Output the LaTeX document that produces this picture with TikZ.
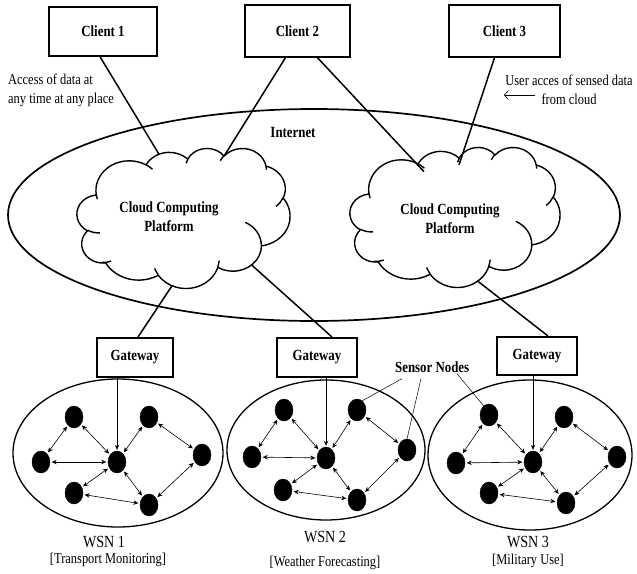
\documentclass[tikz,border=0pt]{standalone}
\usepackage{fontspec}
\setmainfont[FakeStretch=0.83]{Liberation Serif}
\usetikzlibrary{shapes.geometric,arrows.meta}

% Cloud outline with its inner curls, drawn in a 432 x 432 box (y downwards)
\newcommand\drawofficecloud{%
  \draw[cloudline] (39.00,143.70)
    arc[start angle=172.25, end angle=300.36, x radius=67.53, y radius=91.90]
    arc[start angle=-152.04, end angle=-45.41, x radius=53.33, y radius=72.67]
    arc[start angle=-153.49, end angle=-37.33, x radius=43.65, y radius=59.45]
    arc[start angle=-139.71, end angle=-10.21, x radius=48.57, y radius=65.95]
    arc[start angle=-74.77, end angle=23.21, x radius=53.33, y radius=72.73]
    arc[start angle=-37.52, end angle=81.86, x radius=67.75, y radius=92.20]
    arc[start angle=0.46, end angle=121.98, x radius=57.85, y radius=78.67]
    arc[start angle=16.84, end angle=146.22, x radius=67.52, y radius=92.15]
    arc[start angle=58.98, end angle=150.17, x radius=77.20, y radius=105.43]
    arc[start angle=83.31, end angle=223.11, x radius=43.60, y radius=59.18]
    arc[start angle=120.35, end angle=264.11, x radius=43.45, y radius=59.45]
    -- cycle;
  \draw[cloudline] (46.93,261.77) arc[start angle=85.55, end angle=120.35, x radius=43.45, y radius=59.45];
  \draw[cloudline] (69.28,348.99) arc[start angle=68.24, end angle=94.24, x radius=43.60, y radius=59.18];
  \draw[cloudline] (164.78,390.90) arc[start angle=146.22, end angle=159.58, x radius=67.52, y radius=92.15];
  \draw[cloudline] (288.27,347.51) arc[start angle=4.74, end angle=16.84, x radius=67.52, y radius=92.15];
  \draw[cloudline] (341.29,229.54) arc[start angle=-64.03, end angle=0.46, x radius=57.85, y radius=78.67];
  \draw[cloudline] (417.98,153.54) arc[start angle=23.21, end angle=49.65, x radius=53.33, y radius=72.73];
  \draw[cloudline] (383.24,54.26) arc[start angle=-10.21, end angle=0.82, x radius=48.57, y radius=65.95];
  \draw[cloudline] (290.78,39.52) arc[start angle=-156.29, end angle=-139.71, x radius=48.57, y radius=65.95];
  \draw[cloudline] (221.41,47.20) arc[start angle=-167.73, end angle=-153.49, x radius=43.65, y radius=59.45];
  \draw[cloudline] (140.00,51.92) arc[start angle=-59.64, end angle=-45.73, x radius=67.53, y radius=91.90];
  \draw[cloudline] (41.27,157.89) arc[start angle=163.20, end angle=172.25, x radius=67.53, y radius=91.90];
}

\begin{document}
\begin{tikzpicture}[x=1pt,y=-1pt,
  lbl/.style={font=\fontsize{15.5}{19}\selectfont\bfseries, inner sep=0pt},
  note/.style={font=\fontsize{15}{19}\selectfont, inner sep=0pt},
  wsnname/.style={font=\fontsize{17}{19}\selectfont, inner sep=0pt},
  client/.style={draw, line width=1.4pt, font=\fontsize{15.5}{19}\selectfont\bfseries},
  gatebox/.style={draw, line width=2pt, minimum width=78, minimum height=39, font=\fontsize{15.5}{19}\selectfont\bfseries},
  cloudline/.style={line width=1.4pt, line join=round},
  wire/.style={line width=1.5pt},
  sensor/.style={ellipse, fill=black, draw=black, minimum width=18, minimum height=22, inner sep=0pt},
  link/.style={line width=0.6pt, {Stealth[length=5pt,width=4.5pt]}-{Stealth[length=5pt,width=4.5pt]}, shorten <=1.5pt, shorten >=1.5pt},
  feed/.style={line width=0.7pt, -{Stealth[length=5pt,width=4.5pt]}, shorten >=1pt},
  pointer/.style={line width=0.5pt},
  field/.style={ellipse, draw, line width=1.3pt}
]
\useasboundingbox (0,0) rectangle (637,573);

% clients
\node[client, minimum width=108, minimum height=49] (c1) at (103,31.5) {Client 1};
\node[client, minimum width=105, minimum height=52] (c2) at (297.5,31) {Client 2};
\node[client, minimum width=111, minimum height=52] (c3) at (504.5,31) {Client 3};

% annotations
\node[note, anchor=west, align=left] (acc) at (8,90.5) {Access of data at\\any time at any place};
\node[note, align=center] (usr) at (569,89.5) {User acces of sensed data\\from cloud};
\coordinate (ua1) at (535,95);
\coordinate (ua2) at (504,95);
\draw[line width=0.6pt, -{Straight Barb[length=4pt,width=9pt]}] (ua1) -- (ua2);

% internet
\node[ellipse, draw, line width=1.7pt, minimum width=612, minimum height=212] (inet) at (314,215) {};
\node[lbl] (inetl) at (293,132) {Internet};

% cloud platforms
\begin{scope}[shift={(77,148)}, xscale=0.49306, yscale=0.32407]
  \drawofficecloud
  \coordinate (k1a) at (166.3,19.2);
  \coordinate (k1b) at (298.4,24.8);
  \coordinate (k1c) at (192.7,425.1);
  \coordinate (k1d) at (354.9,362.0);
\end{scope}
\begin{scope}[shift={(350,147)}, xscale=0.48611, yscale=0.32407]
  \drawofficecloud
  \coordinate (k2a) at (152.2,76.1);
  \coordinate (k2b) at (224.2,55.5);
  \coordinate (k2c) at (262.0,413.0);
\end{scope}
\node[lbl, align=center] (cl1) at (169,217) {Cloud Computing\\Platform};
\node[lbl, align=center] (cl2) at (450,219) {Cloud Computing\\Platform};

% client links
\draw[wire] ([xshift=-3]c1.south) -- (k1a);
\draw[wire] ([xshift=-12]c2.south) -- (k1b);
\draw[wire] ([xshift=20]c2.south) -- (k2a);
\draw[wire] ([xshift=-10]c3.south) -- (k2b);

% gateways
\node[gatebox, minimum width=76] (gw1) at (135,357.5) {Gateway};
\node[gatebox, minimum width=80] (gw2) at (317,357.5) {Gateway};
\node[gatebox, minimum width=80, minimum height=38] (gw3) at (537,356) {Gateway};

\draw[wire] (k1c) -- ([xshift=3]gw1.north);
\draw[wire] (k1d) -- ([xshift=15]gw2.north);
\draw[wire] (k2c) -- ([xshift=11]gw3.north);

% sensor fields
\node[field, minimum width=210, minimum height=148] (f1) at (118,453) {};
\node[field, minimum width=198, minimum height=140] (f2) at (326,450) {};
\node[field, minimum width=204, minimum height=150] (f3) at (530,455) {};

\foreach \n/\x/\y in {1a/74/417, 1b/41/462, 1c/117/462, 1d/149/417, 1e/202/455, 1f/74/493, 1g/149/505,
                      2a/284/410, 2b/252/457, 2c/326/458, 2d/357/410, 2e/407/450, 2f/283/490, 2g/357/500,
                      3a/489/415, 3b/456/463, 3c/533/462, 3d/564/417, 3e/617/457, 3f/489/493, 3g/566/503}
  \node[sensor] (s\n) at (\x,\y) {};

\foreach \k in {1,2,3}
  \foreach \p/\q in {a/b, b/c, a/c, d/c, d/e, c/f, f/g, c/g, e/g}
    \draw[link] (s\k\p) -- (s\k\q);

\draw[feed] (gw1.south -| s1c) -- (s1c);
\draw[feed] (gw2.south -| s2c) -- (s2c);
\draw[feed] (gw3.south -| s3c) -- (s3c);

% sensor node callout
\node[lbl, anchor=west] (sn) at (395,367) {Sensor Nodes};
\draw[pointer] ([shift={(7,6)}]sn.south west) -- (s2d.60);
\draw[pointer] ([shift={(26,6)}]sn.south west) -- (s2e.north);
\draw[pointer] ([shift={(62,1)}]sn.south west) -- (s3a.120);

% field captions
\node[wsnname] (w1) at (104,542) {WSN 1};
\node[note] (w1t) at (108,560) {[Transport Monitoring]};
\node[wsnname] (w2) at (325,537) {WSN 2};
\node[note] (w2t) at (325,563) {[Weather Forecasting]};
\node[wsnname] (w3) at (528,542) {WSN 3};
\node[note] (w3t) at (528,561) {[Military Use]};
\end{tikzpicture}
\end{document}
